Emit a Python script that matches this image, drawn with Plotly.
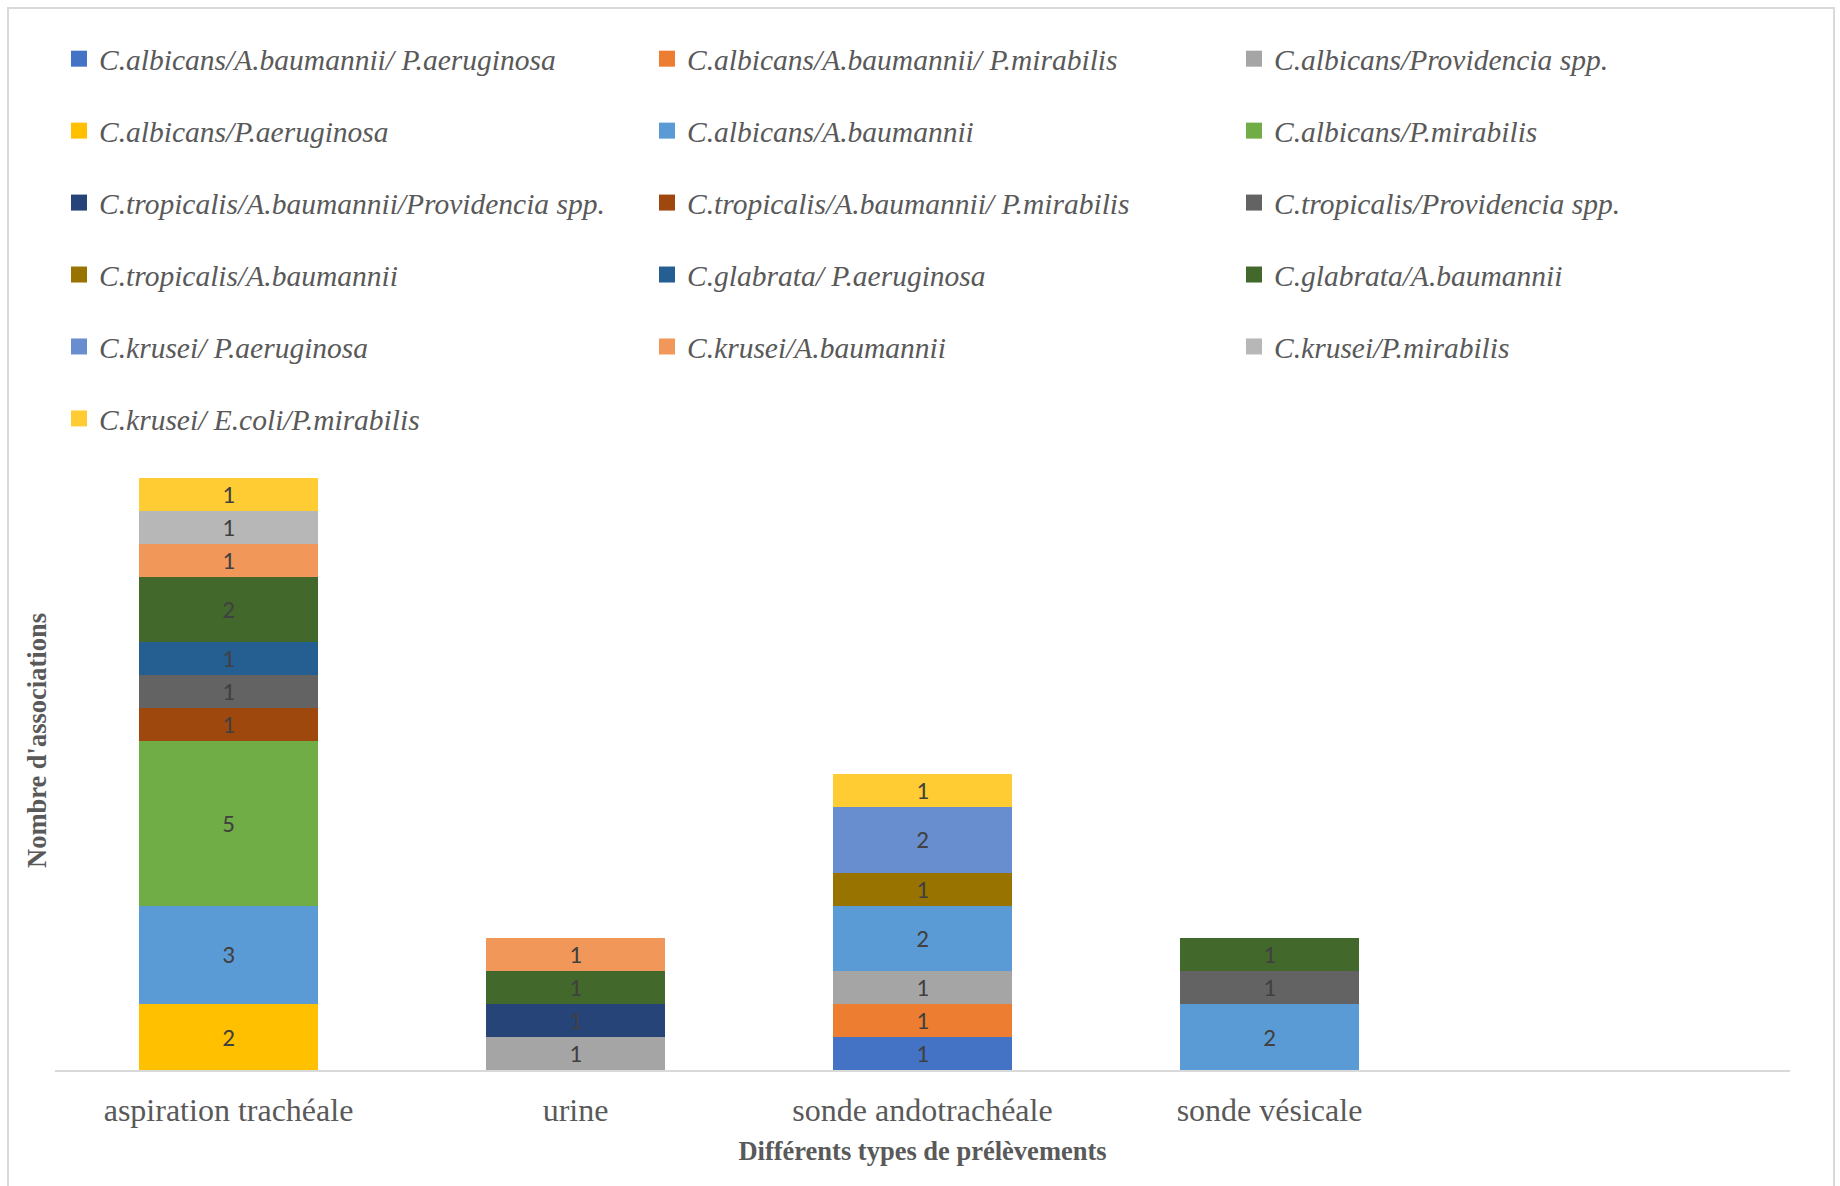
import plotly.graph_objects as go

categories = ["aspiration trachéale", "urine", "sonde andotrachéale", "sonde vésicale"]

series_names = [
    "C.albicans/A.baumannii/ P.aeruginosa",
    "C.albicans/A.baumannii/ P.mirabilis",
    "C.albicans/Providencia spp.",
    "C.albicans/P.aeruginosa",
    "C.albicans/A.baumannii",
    "C.albicans/P.mirabilis",
    "C.tropicalis/A.baumannii/Providencia spp.",
    "C.tropicalis/A.baumannii/ P.mirabilis",
    "C.tropicalis/Providencia spp.",
    "C.tropicalis/A.baumannii",
    "C.glabrata/ P.aeruginosa",
    "C.glabrata/A.baumannii",
    "C.krusei/ P.aeruginosa",
    "C.krusei/A.baumannii",
    "C.krusei/P.mirabilis",
    "C.krusei/ E.coli/P.mirabilis",
]

series_values = [
    [None, None, 1, None],
    [None, None, 1, None],
    [None, 1, 1, None],
    [2, None, None, None],
    [3, None, 2, 2],
    [5, None, None, None],
    [None, 1, None, None],
    [1, None, None, None],
    [1, None, None, 1],
    [None, None, 1, None],
    [1, None, None, None],
    [2, 1, None, 1],
    [None, None, 2, None],
    [1, 1, None, None],
    [1, None, None, None],
    [1, None, 1, None],
]

series_colors = [
    "#4472C4", "#ED7D31", "#A5A5A5", "#FFC000", "#5B9BD5", "#70AD47",
    "#264478", "#9E480E", "#636363", "#997300", "#255E91", "#43682B",
    "#698ED0", "#F1975A", "#B7B7B7", "#FFCD33",
]

serif = "Liberation Serif, Times New Roman, serif"
label_font = "Carlito, Lato, sans-serif"
grey = "#595959"

fig = go.Figure()
legend_ids = ["legend", "legend2", "legend3"]
for i, (name, vals, col) in enumerate(zip(series_names, series_values, series_colors)):
    lf = dict(family=label_font, size=25, color="#404040")
    fig.add_trace(go.Bar(
        name=name,
        x=categories,
        y=vals,
        marker=dict(color=col, line=dict(width=0)),
        text=[("" if v is None else str(v)) for v in vals],
        textposition="inside",
        insidetextanchor="middle",
        textangle=0,
        constraintext="none",
        textfont=lf,
        insidetextfont=lf,
        showlegend=False,
        legendgroup=f"g{i}",
        hoverinfo="name+y",
    ))
    # legend entry with a larger square swatch
    fig.add_trace(go.Scatter(
        name=name,
        x=[categories[0]],
        y=[None],
        mode="markers",
        marker=dict(symbol="square", size=16, color=col, line=dict(width=0)),
        legend=legend_ids[i % 3],
        legendgroup=f"g{i}",
        showlegend=True,
        hoverinfo="skip",
    ))

L, R, T, B = 55, 50, 412, 116
W, H = 1840, 1186
pw = W - L - R
ph = H - T - B

def px_x(X):
    return (X - L) / pw

def px_y(Y):
    return (H - B - Y) / ph

leg_common = dict(
    orientation="v",
    bgcolor="rgba(0,0,0,0)",
    font=dict(family=serif, size=29.5, color=grey, style="italic"),
    tracegroupgap=30.6,
    yanchor="top",
    xanchor="left",
    itemsizing="trace",
)
leg_top = px_y(33)
fig.update_layout(
    width=W, height=H,
    margin=dict(l=L, r=R, t=T, b=B, autoexpand=False),
    paper_bgcolor="white",
    plot_bgcolor="white",
    barmode="stack",
    bargap=0.487,
    showlegend=True,
    legend=dict(x=px_x(59), y=leg_top, **leg_common),
    legend2=dict(x=px_x(647), y=leg_top, **leg_common),
    legend3=dict(x=px_x(1234), y=leg_top, **leg_common),
    xaxis=dict(
        type="category",
        categoryorder="array",
        categoryarray=categories,
        range=[-0.5, 4.5],
        showline=True,
        linecolor="#D9D9D9",
        linewidth=2,
        ticks="outside",
        ticklen=11,
        tickcolor="rgba(0,0,0,0)",
        tickfont=dict(family=serif, size=32, color=grey),
        showgrid=False,
        zeroline=False,
        title=dict(
            text="<b>Différents types de prélèvements</b>",
            font=dict(family=serif, size=26.5, color=grey),
            standoff=14,
        ),
    ),
    yaxis=dict(
        range=[0, 20],
        showline=False,
        showgrid=False,
        zeroline=False,
        showticklabels=False,
        ticks="",
    ),
)

fig.add_annotation(
    text="<b>Nombre d'associations</b>",
    xref="paper", yref="paper",
    x=px_x(37), y=0.5,
    xanchor="center", yanchor="middle",
    textangle=-90, showarrow=False,
    font=dict(family=serif, size=26.5, color=grey),
)

fig.add_shape(
    type="rect", xref="paper", yref="paper",
    x0=px_x(8), x1=px_x(1834), y0=px_y(1200), y1=px_y(8),
    line=dict(color="#D9D9D9", width=2), fillcolor="rgba(0,0,0,0)",
    layer="below",
)

fig.write_html("out.html")
